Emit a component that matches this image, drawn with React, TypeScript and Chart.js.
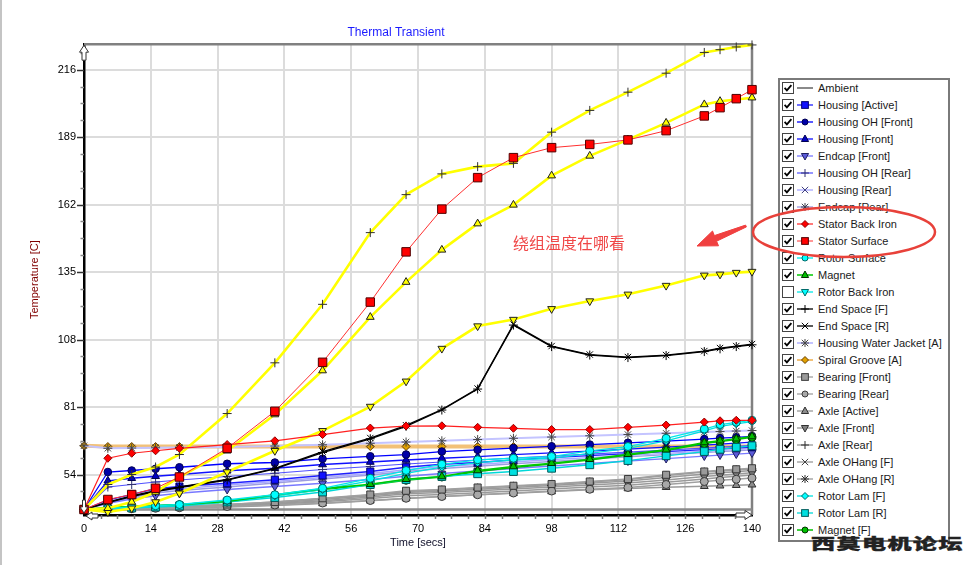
import React, { useEffect, useRef } from 'react';
import { Chart, registerables } from 'chart.js';

Chart.register(...registerables);

// ---------- data ----------
const TIMES = [0, 5, 10, 15, 20, 30, 40, 50, 60, 67.5, 75, 82.5, 90, 98, 106, 114, 122, 130, 133.3, 136.7, 140];
const X_TICKS = [0, 14, 28, 42, 56, 70, 84, 98, 112, 126, 140];
const Y_TICKS = [54, 81, 108, 135, 162, 189, 216];
const X_MIN = 0;
const X_MAX = 140;
const Y_MIN = 37.8;
const Y_MAX = 226.2;

const AMBIENT = [40, 40, 40, 40, 40, 40, 40, 40, 40, 40, 40, 40, 40, 40, 40, 40, 40, 40, 40, 40, 40];
const HOUSING_ACTIVE = [40, 43.8, 46.1, 48.3, 49.2, 50.5, 51.9, 53.6, 55.2, 56.9, 58.1, 58.8, 59.9, 60.8, 61.6, 62.4, 63.2, 64, 64.3, 64.6, 65];
const HOUSING_OH_FRONT = [40, 55, 55.6, 56.3, 56.9, 58.3, 58.8, 60.3, 61.3, 62, 63.2, 63.9, 64.6, 65.3, 66, 66.7, 67.4, 68.2, 68.6, 68.9, 69.3];
const HOUSING_FRONT = [40, 51.5, 52.5, 53.3, 54, 55.5, 56.5, 58, 59, 59.8, 60.5, 61.2, 62, 62.7, 63.4, 64.2, 65, 65.8, 66.2, 66.6, 67];
const ENDCAP_FRONT = [40, 42.5, 44.2, 45.5, 46.5, 48, 49.2, 50.5, 52, 53.3, 54.4, 55.4, 56.4, 57.4, 58.4, 59.4, 60.4, 61.4, 61.8, 62.2, 62.6];
const HOUSING_OH_REAR = [40, 49, 50, 51, 51.8, 53.2, 54.5, 56, 57.2, 58.2, 59, 59.8, 60.6, 61.4, 62.2, 63, 63.8, 64.6, 65, 65.3, 65.7];
const HOUSING_REAR = [40, 43, 45.3, 47.3, 48.3, 49.8, 51.2, 52.8, 54.4, 55.9, 57.2, 58, 59, 60, 60.8, 61.7, 62.5, 63.4, 63.7, 64, 64.4];
const ENDCAP_REAR = [40, 42.8, 44.8, 46.6, 47.6, 49, 50.6, 52.2, 53.8, 55.2, 56.4, 57.3, 58.3, 59.2, 60.2, 61.1, 62, 62.8, 63.2, 63.5, 63.9];
const STATOR_BACK_IRON = [40, 60.5, 62.5, 63.5, 64.5, 66, 67.5, 70, 72.6, 73.4, 73.5, 72.9, 72.5, 72, 72, 72.9, 73.8, 75, 75.5, 75.7, 75.7];
const STATOR_SURFACE = [40, 44, 46, 48.5, 53, 64.5, 79.3, 98.9, 123, 143.1, 160.2, 172.8, 180.8, 184.8, 186.1, 187.9, 191.6, 197.5, 200.8, 204.4, 208];
const ROTOR_SURFACE = [40, 40.5, 41, 41.5, 42, 43.8, 45.9, 48.5, 52.5, 55.6, 58.1, 59.9, 60.5, 61.2, 63.5, 65.2, 68.5, 72.2, 74, 74.9, 75.7];
const MAGNET = [40, 40.8, 41.2, 41.6, 42, 43.2, 45.9, 48.3, 50.1, 52.1, 53.2, 55.6, 57.2, 58.5, 60.1, 62.1, 63.9, 66.8, 67.5, 68.3, 69.2];
const ROTOR_BACK_IRON = [40, 40.6, 41.1, 41.6, 42.1, 43.6, 45.7, 48.2, 51.8, 54.8, 57.3, 59.1, 60, 60.8, 62.6, 64.4, 67.4, 71, 72.8, 73.8, 74.7];
const END_SPACE_F = [40, 42.8, 45.2, 47.2, 48.8, 51.8, 56.3, 62.8, 68.3, 73.3, 79.8, 88.2, 113.8, 105.2, 101.8, 100.8, 101.6, 103.2, 104.3, 105.2, 105.9];
const END_SPACE_R = [40, 43, 45.5, 47.5, 49, 52, 56.5, 63.2, 68.6, 73.7, 80, 88.4, 114.1, 105.4, 102, 101, 101.8, 103.4, 104.6, 105.4, 106.2];
const WATER_JACKET = [65.5, 64.5, 64.6, 64.7, 64.8, 65, 65.4, 65.9, 66.5, 67, 67.5, 68, 68.5, 69, 69.5, 70, 70.5, 71, 71.2, 71.4, 71.6];
const SPIRAL_GROOVE = [65.5, 65.2, 65.2, 65.2, 65.2, 65.2, 65.2, 65.2, 65.2, 65.2, 65.2, 65.2, 65.2, 65.2, 65.2, 65.2, 65.2, 65.2, 65.2, 65.2, 65.2];
const BEARING_FRONT = [40, 40.3, 40.6, 40.9, 41.2, 42, 43, 44.5, 46, 47.5, 48, 48.8, 49.5, 50.2, 51.2, 52.2, 53.9, 55.2, 55.7, 56.1, 56.5];
const BEARING_REAR = [40, 40.1, 40.3, 40.5, 40.7, 41.2, 41.8, 42.6, 43.6, 44.5, 45.2, 45.9, 46.6, 47.4, 48.1, 48.8, 50, 51.2, 51.7, 52.1, 52.6];
const AXLE_ACTIVE = [40, 40.1, 40.2, 40.4, 40.6, 41, 41.6, 42.4, 43.5, 44.4, 45.2, 45.9, 46.5, 47.2, 47.9, 48.4, 48.9, 49.3, 49.5, 49.7, 49.9];
const AXLE_FRONT = [40, 40.2, 40.5, 40.8, 41, 41.6, 42.4, 43.5, 45, 46.3, 46.8, 47.5, 48.2, 49, 49.8, 50.6, 51.8, 53.2, 53.7, 54.2, 54.7];
const AXLE_REAR = [40, 40.2, 40.5, 40.8, 41.1, 41.8, 42.7, 44, 45.5, 46.8, 47.4, 48.1, 48.8, 49.6, 50.5, 51.4, 52.8, 54.2, 54.7, 55.1, 55.6];
const AXLE_OHANG_F = [40, 40.2, 40.4, 40.7, 40.9, 41.4, 42.1, 43.1, 44.4, 45.5, 46, 46.7, 47.4, 48.2, 49, 49.7, 50.9, 52.2, 52.8, 53.3, 53.8];
const AXLE_OHANG_R = [40, 40.3, 40.6, 40.9, 41.2, 42, 43, 44.4, 45.8, 47.2, 47.8, 48.6, 49.3, 50, 51, 52, 53.6, 55, 55.4, 55.8, 56.2];
const ROTOR_LAM_F = [40, 40.4, 40.9, 41.4, 41.9, 43.5, 45.5, 48, 51.5, 54.5, 57, 58.8, 59.8, 60.5, 62.5, 64.5, 67.5, 71.5, 73.3, 74.3, 75.2];
const ROTOR_LAM_R = [40, 40.3, 40.6, 41, 41.4, 43, 44.8, 47, 50, 52, 53.2, 54.3, 55.2, 56.5, 57.9, 59.6, 61.5, 63.2, 64.1, 64.9, 65.5];
const MAGNET_F = [40, 40.7, 41.1, 41.5, 41.9, 43, 45.6, 48, 49.8, 51.7, 53, 55.2, 56.8, 58.2, 59.8, 61.8, 63.6, 66.4, 67.2, 68, 68.9];
const WINDING_1 = [40, 50, 54, 57, 62, 78.4, 98.7, 122.1, 150.8, 166, 174.3, 177.2, 178.5, 191, 199.7, 207, 214.6, 222.9, 224, 225.1, 225.9];
const WINDING_2 = [40, 40.5, 43, 47, 53, 63.5, 78, 95.6, 117, 131, 143.9, 154.4, 161.9, 173.6, 181.5, 188, 194.7, 202.1, 203.4, 204.1, 204.8];
const WINDING_3 = [40, 39, 40.5, 43, 46.5, 55, 63.5, 71.5, 81.2, 91.3, 104.4, 113.4, 116, 120.3, 123.4, 126.1, 129.6, 133.7, 134.1, 134.8, 135.2];

// ---------- series styles ----------
type Series = {
  name: string;
  data: number[];
  line: string;
  width: number;
  point: string;
  r: number;
  fill: string;
  stroke: string;
  rot?: number;
  legend: boolean;
  checked: boolean;
  order: number;
};

const SERIES: Series[] = [
  { name: 'Ambient', data: AMBIENT, line: '#8a8a8a', width: 2.5, point: 'line', r: 0, fill: '#8a8a8a', stroke: '#8a8a8a', legend: true, checked: true, order: 40 },
  { name: 'Housing [Active]', data: HOUSING_ACTIVE, line: '#2020ff', width: 1.3, point: 'rect', r: 5, fill: '#1010ff', stroke: '#000070', legend: true, checked: true, order: 20 },
  { name: 'Housing OH [Front]', data: HOUSING_OH_FRONT, line: '#0000ff', width: 1.3, point: 'circle', r: 3.8, fill: '#0000a8', stroke: '#000050', legend: true, checked: true, order: 20 },
  { name: 'Housing [Front]', data: HOUSING_FRONT, line: '#1010ff', width: 1.3, point: 'triangle', r: 4.5, fill: '#0000c0', stroke: '#000050', legend: true, checked: true, order: 20 },
  { name: 'Endcap [Front]', data: ENDCAP_FRONT, line: '#7878ff', width: 1.3, point: 'triangle', rot: 180, r: 4.5, fill: '#5a5ad8', stroke: '#202060', legend: true, checked: true, order: 21 },
  { name: 'Housing OH [Rear]', data: HOUSING_OH_REAR, line: '#5050ff', width: 1.2, point: 'cross', r: 4.5, fill: '#303070', stroke: '#303070', legend: true, checked: true, order: 21 },
  { name: 'Housing [Rear]', data: HOUSING_REAR, line: '#a8a8ff', width: 1.3, point: 'crossRot', r: 4.5, fill: '#404080', stroke: '#404080', legend: true, checked: true, order: 21 },
  { name: 'Endcap [Rear]', data: ENDCAP_REAR, line: '#9c9ce0', width: 1.3, point: 'star', r: 4.5, fill: '#404050', stroke: '#404050', legend: true, checked: true, order: 21 },
  { name: 'Stator Back Iron', data: STATOR_BACK_IRON, line: '#ff2020', width: 1.2, point: 'rectRot', r: 4, fill: '#ff0000', stroke: '#900000', legend: true, checked: true, order: 1 },
  { name: 'Stator Surface', data: STATOR_SURFACE, line: '#ff3030', width: 1, point: 'rect', r: 6, fill: '#ff0000', stroke: '#500000', legend: true, checked: true, order: 0 },
  { name: 'Rotor Surface', data: ROTOR_SURFACE, line: '#00e8e8', width: 1.3, point: 'circle', r: 4, fill: '#00ffff', stroke: '#006a6a', legend: true, checked: true, order: 15 },
  { name: 'Magnet', data: MAGNET, line: '#00c800', width: 1.5, point: 'triangle', r: 4.5, fill: '#00c000', stroke: '#003000', legend: true, checked: true, order: 15 },
  { name: 'Rotor Back Iron', data: ROTOR_BACK_IRON, line: '#00e8e8', width: 1.3, point: 'triangle', rot: 180, r: 4.5, fill: '#00ffff', stroke: '#006a6a', legend: true, checked: false, order: 15 },
  { name: 'End Space [F]', data: END_SPACE_F, line: '#000000', width: 1.3, point: 'cross', r: 4.5, fill: '#000000', stroke: '#000000', legend: true, checked: true, order: 3 },
  { name: 'End Space [R]', data: END_SPACE_R, line: '#000000', width: 1.3, point: 'crossRot', r: 4.5, fill: '#000000', stroke: '#000000', legend: true, checked: true, order: 3 },
  { name: 'Housing Water Jacket [A]', data: WATER_JACKET, line: '#c4c4ff', width: 2, point: 'star', r: 4.5, fill: '#404040', stroke: '#454545', legend: true, checked: true, order: 22 },
  { name: 'Spiral Groove [A]', data: SPIRAL_GROOVE, line: 'rgba(240,182,96,0.85)', width: 4, point: 'rectRot', r: 4, fill: '#e0a000', stroke: '#6a4000', legend: true, checked: true, order: 23 },
  { name: 'Bearing [Front]', data: BEARING_FRONT, line: '#a0a0a0', width: 1.3, point: 'rect', r: 5, fill: '#9a9a9a', stroke: '#3a3a3a', legend: true, checked: true, order: 30 },
  { name: 'Bearing [Rear]', data: BEARING_REAR, line: '#a0a0a0', width: 1.3, point: 'circle', r: 4, fill: '#a8a8a8', stroke: '#3a3a3a', legend: true, checked: true, order: 30 },
  { name: 'Axle [Active]', data: AXLE_ACTIVE, line: '#9a9a9a', width: 1.3, point: 'triangle', r: 4.5, fill: '#8c8c8c', stroke: '#303030', legend: true, checked: true, order: 30 },
  { name: 'Axle [Front]', data: AXLE_FRONT, line: '#9a9a9a', width: 1.3, point: 'triangle', rot: 180, r: 4.5, fill: '#808080', stroke: '#303030', legend: true, checked: true, order: 30 },
  { name: 'Axle [Rear]', data: AXLE_REAR, line: '#9a9a9a', width: 1.3, point: 'cross', r: 4.5, fill: '#303030', stroke: '#303030', legend: true, checked: true, order: 30 },
  { name: 'Axle OHang [F]', data: AXLE_OHANG_F, line: '#9a9a9a', width: 1.3, point: 'crossRot', r: 4.5, fill: '#404040', stroke: '#404040', legend: true, checked: true, order: 30 },
  { name: 'Axle OHang [R]', data: AXLE_OHANG_R, line: '#9a9a9a', width: 1.3, point: 'star', r: 4.5, fill: '#303030', stroke: '#303030', legend: true, checked: true, order: 30 },
  { name: 'Rotor Lam [F]', data: ROTOR_LAM_F, line: '#00e0e0', width: 1.3, point: 'rectRot', r: 4, fill: '#00ffff', stroke: '#006a6a', legend: true, checked: true, order: 16 },
  { name: 'Rotor Lam [R]', data: ROTOR_LAM_R, line: '#00d8d8', width: 1.3, point: 'rect', r: 5.5, fill: '#00e0e0', stroke: '#005858', legend: true, checked: true, order: 16 },
  { name: 'Magnet [F]', data: MAGNET_F, line: '#00c000', width: 1.5, point: 'circle', r: 4, fill: '#00c000', stroke: '#003000', legend: true, checked: true, order: 16 },
  { name: 'Winding 1', data: WINDING_1, line: '#ffff00', width: 2.6, point: 'cross', r: 4.5, fill: '#303030', stroke: '#303030', legend: false, checked: true, order: 2 },
  { name: 'Winding 2', data: WINDING_2, line: '#ffff00', width: 2.6, point: 'triangle', r: 4.5, fill: '#ffff00', stroke: '#202020', legend: false, checked: true, order: 2 },
  { name: 'Winding 3', data: WINDING_3, line: '#ffff00', width: 2.6, point: 'triangle', rot: 180, r: 4.5, fill: '#ffff00', stroke: '#202020', legend: false, checked: true, order: 2 },
];

const FONT = "'Liberation Sans', Arial, sans-serif";

// ---------- plugin for frame, minor ticks and axis arrows ----------
const framePlugin = {
  id: 'frame',
  beforeDatasetsDraw(chart: any) {
    const { ctx, chartArea: a } = chart;
    ctx.save();
    ctx.strokeStyle = '#808080';
    ctx.lineWidth = 2.5;
    ctx.beginPath();
    ctx.moveTo(a.left, a.top);
    ctx.lineTo(a.right, a.top);
    ctx.lineTo(a.right, a.bottom);
    ctx.stroke();
    ctx.restore();
  },
  afterDraw(chart: any) {
    const { ctx, chartArea: a, scales } = chart;
    const xs = scales.x;
    const ys = scales.y;
    ctx.save();
    const yStep = (Y_TICKS[1] - Y_TICKS[0]) / 4;
    for (let v = Y_TICKS[0] - yStep * Math.floor((Y_TICKS[0] - Y_MIN) / yStep); v <= Y_MAX; v += yStep) {
      const py = Math.round(ys.getPixelForValue(v)) + 0.5;
      const major = Y_TICKS.some((t) => Math.abs(t - v) < 1e-6);
      ctx.strokeStyle = major ? '#333' : '#888';
      ctx.lineWidth = 1.5;
      ctx.beginPath();
      ctx.moveTo(a.left - (major ? 7 : 3.5), py);
      ctx.lineTo(a.left, py);
      ctx.stroke();
    }
    const xStep = (X_TICKS[1] - X_TICKS[0]) / 4;
    for (let v = X_MIN + xStep; v < X_MAX; v += xStep) {
      const px = Math.round(xs.getPixelForValue(v)) + 0.5;
      ctx.strokeStyle = '#777';
      ctx.lineWidth = 1.5;
      ctx.beginPath();
      ctx.moveTo(px, a.bottom);
      ctx.lineTo(px, a.bottom + 4);
      ctx.stroke();
    }
    const arrow = (pts: number[][]) => {
      ctx.beginPath();
      ctx.moveTo(pts[0][0], pts[0][1]);
      for (let i = 1; i < pts.length; i++) ctx.lineTo(pts[i][0], pts[i][1]);
      ctx.closePath();
      ctx.fillStyle = '#ffffff';
      ctx.fill();
      ctx.strokeStyle = '#333';
      ctx.lineWidth = 1;
      ctx.stroke();
    };
    const L = a.left, T = a.top, R = a.right, B = a.bottom;
    arrow([[L, T + 1], [L + 4.5, T + 8], [L + 2, T + 8], [L + 2, T + 16], [L - 2, T + 16], [L - 2, T + 8], [L - 4.5, T + 8]]);
    arrow([[R, B], [R - 7, B - 4.5], [R - 7, B - 2], [R - 16, B - 2], [R - 16, B + 2], [R - 7, B + 2], [R - 7, B + 4.5]]);
    arrow([[L, B - 2], [L - 4, B - 8], [L - 1.5, B - 8], [L - 1.5, B - 15], [L + 1.5, B - 15], [L + 1.5, B - 8], [L + 4, B - 8]]);
    arrow([[L + 2, B + 1], [L + 8, B - 3], [L + 8, B - 1], [L + 14, B - 1], [L + 14, B + 3], [L + 8, B + 3], [L + 8, B + 5]]);
    ctx.restore();
  },
};

// ---------- legend icon ----------
function Icon({ s }: { s: Series }) {
  const cx = 8;
  const cy = 6;
  const r = Math.min(s.r, 4.2);
  const c = { fill: s.fill, stroke: s.stroke, strokeWidth: 1 };
  let m: any = null;
  const down = s.rot === 180;
  if (s.point === 'rect') {
    const h = Math.min(r * 0.8, 3.5);
    m = <rect x={cx - h} y={cy - h} width={2 * h} height={2 * h} {...c} />;
  } else if (s.point === 'circle') {
    m = <circle cx={cx} cy={cy} r={3} {...c} />;
  } else if (s.point === 'triangle') {
    const k = down ? -1 : 1;
    const pts = [[cx, cy - 4 * k], [cx + 3.6, cy + 2.5 * k], [cx - 3.6, cy + 2.5 * k]];
    m = <polygon points={pts.map((p) => p.join(',')).join(' ')} {...c} />;
  } else if (s.point === 'rectRot') {
    const pts = [[cx, cy - 3.5], [cx + 3.5, cy], [cx, cy + 3.5], [cx - 3.5, cy]];
    m = <polygon points={pts.map((p) => p.join(',')).join(' ')} {...c} />;
  } else if (s.point === 'cross' || s.point === 'crossRot' || s.point === 'star') {
    const segs: number[][] = [];
    if (s.point !== 'crossRot') segs.push([cx - 4, cy, cx + 4, cy], [cx, cy - 4, cx, cy + 4]);
    if (s.point !== 'cross') segs.push([cx - 3.2, cy - 3.2, cx + 3.2, cy + 3.2], [cx - 3.2, cy + 3.2, cx + 3.2, cy - 3.2]);
    m = (
      <g stroke={s.stroke} strokeWidth={1}>
        {segs.map((g, i) => (
          <line key={i} x1={g[0]} y1={g[1]} x2={g[2]} y2={g[3]} />
        ))}
      </g>
    );
  }
  return (
    <svg width={16} height={12} style={{ position: 'absolute', left: 17, top: 2.5 }}>
      <line x1={0} y1={cy} x2={16} y2={cy} stroke={s.line} strokeWidth={Math.min(s.width, 2)} />
      {m}
    </svg>
  );
}

function CheckBox({ checked }: { checked: boolean }) {
  return (
    <svg width={12} height={12} style={{ position: 'absolute', left: 2, top: 2.5 }}>
      <rect x={0.5} y={0.5} width={11} height={11} fill="#fff" stroke="#444" strokeWidth={1} />
      {checked ? <path d="M2.6 5.8 L4.9 8.3 L9.4 3.2" fill="none" stroke="#000" strokeWidth={1.8} /> : null}
    </svg>
  );
}

export default function App() {
  const ref = useRef<HTMLCanvasElement | null>(null);

  useEffect(() => {
    document.body.style.margin = '0';
    const canvas = ref.current;
    if (!canvas) return;
    const datasets = SERIES.map((s) => ({
      label: s.name,
      data: TIMES.map((t, k) => ({ x: t, y: s.data[k] })),
      borderColor: s.line,
      backgroundColor: s.fill,
      borderWidth: s.width,
      pointStyle: s.point === 'line' ? 'circle' : s.point,
      pointRadius: s.r,
      pointBackgroundColor: s.fill,
      pointBorderColor: s.stroke,
      pointBorderWidth: 1,
      pointRotation: s.rot || 0,
      hidden: !s.checked,
      order: s.order,
      fill: false,
      tension: 0,
      clip: false as any,
    }));
    const chart = new Chart(canvas, {
      type: 'line',
      data: { datasets },
      plugins: [framePlugin],
      options: {
        responsive: false,
        animation: false,
        devicePixelRatio: 1,
        layout: { padding: 0 },
        font: { family: FONT },
        plugins: {
          legend: { display: false },
          tooltip: { enabled: false },
          title: {
            display: true,
            text: 'Thermal Transient',
            color: '#1a1aff',
            font: { family: FONT, size: 12, weight: 'normal' },
            padding: { top: 3.5, bottom: 4.3 },
          },
        },
        scales: {
          x: {
            type: 'linear',
            min: X_MIN,
            max: X_MAX,
            afterBuildTicks: (s: any) => {
              s.ticks = X_TICKS.map((v) => ({ value: v }));
            },
            afterFit: (s: any) => {
              s.height = 40;
            },
            ticks: {
              color: '#000',
              font: { family: FONT, size: 11 },
              padding: 7,
              maxRotation: 0,
              autoSkip: false,
              callback: (v: any) => String(v),
            },
            grid: { color: '#dcdcdc', lineWidth: 2, drawTicks: false },
            border: { display: true, color: '#000', width: 2.5 },
            title: {
              display: true,
              text: 'Time [secs]',
              color: '#10102a',
              font: { family: FONT, size: 11 },
              padding: { top: 0, bottom: 5 },
            },
          },
          y: {
            type: 'linear',
            min: Y_MIN,
            max: Y_MAX,
            afterBuildTicks: (s: any) => {
              s.ticks = Y_TICKS.map((v) => ({ value: v }));
            },
            afterFit: (s: any) => {
              s.width = 64;
            },
            ticks: {
              color: '#000',
              font: { family: FONT, size: 11 },
              padding: 8,
              autoSkip: false,
              callback: (v: any) => String(v),
            },
            grid: { color: '#dcdcdc', lineWidth: 2, drawTicks: false },
            border: { display: true, color: '#000', width: 2.5 },
            title: {
              display: true,
              text: 'Temperature [C]',
              color: '#800000',
              font: { family: FONT, size: 11 },
              padding: { top: 8, bottom: 0 },
            },
          },
          spacer: {
            type: 'linear',
            position: 'right',
            display: true,
            min: Y_MIN,
            max: Y_MAX,
            afterFit: (s: any) => {
              s.width = 20;
            },
            ticks: { display: false },
            grid: { display: false, drawOnChartArea: false, drawTicks: false },
            border: { display: false },
          },
        },
      } as any,
    });
    return () => chart.destroy();
  }, []);

  const legendItems = SERIES.filter((s) => s.legend);

  return (
    <div style={{ position: 'absolute', left: 0, top: 0, width: 976, height: 565, background: '#fff', overflow: 'hidden', fontFamily: FONT }}>
      <div style={{ position: 'absolute', left: 0, top: 0, width: 2, height: 565, background: '#c4c4c4' }} />
      <canvas ref={ref} width={752} height={533} style={{ position: 'absolute', left: 20, top: 22, width: 752, height: 533 }} />
      <div
        style={{
          position: 'absolute',
          left: 778,
          top: 78,
          width: 172,
          height: 464,
          boxSizing: 'border-box',
          border: '2px solid #7a7a7a',
          background: '#fff',
        }}
      >
        {legendItems.map((s, i) => (
          <div key={s.name} style={{ position: 'absolute', left: 0, top: -0.5 + 17 * i, width: 168, height: 17 }}>
            <CheckBox checked={s.checked} />
            <Icon s={s} />
            <span
              style={{
                position: 'absolute',
                left: 38,
                top: 1.5,
                fontSize: 11,
                lineHeight: '14px',
                color: '#1a1a1a',
                whiteSpace: 'nowrap',
              }}
            >
              {s.name}
            </span>
          </div>
        ))}
      </div>
      <div
        style={{
          position: 'absolute',
          left: 811,
          top: 536,
          fontFamily: "'Noto Sans CJK SC', sans-serif",
          fontWeight: 900,
          fontSize: 24,
          lineHeight: '24px',
          letterSpacing: 1.5,
          color: '#222222',
          transform: 'scale(1, 0.6)',
          transformOrigin: 'top left',
          whiteSpace: 'nowrap',
          WebkitTextStroke: '0.6px #222222',
        }}
      >
        西莫电机论坛
      </div>
      <div
        style={{
          position: 'absolute',
          left: 513,
          top: 232,
          fontFamily: "'Noto Sans CJK SC', sans-serif",
          fontSize: 16,
          lineHeight: '20px',
          color: '#f04848',
          whiteSpace: 'nowrap',
        }}
      >
        绕组温度在哪看
      </div>
      <svg width={976} height={565} style={{ position: 'absolute', left: 0, top: 0, pointerEvents: 'none' }}>
        <ellipse cx={844} cy={232} rx={91} ry={25} fill="none" stroke="#e8413a" strokeWidth={2.5} />
        <polygon
          points="697,246 718.5,245.8 716.6,241.2 746.4,226.9 745.6,225.1 714.4,235.6 712.5,231"
          fill="#f04040"
          stroke="#f04040"
          strokeWidth={1}
          strokeLinejoin="round"
        />
      </svg>
    </div>
  );
}
